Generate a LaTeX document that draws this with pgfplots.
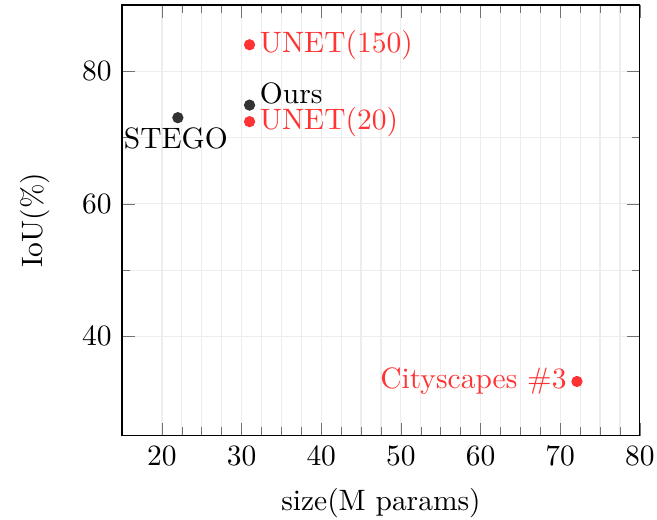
\documentclass[border=0pt]{standalone}
\usepackage{pgfplots}
\pgfplotsset{compat=1.18}
\definecolor{myred}{RGB}{255,51,51}
\definecolor{mydark}{RGB}{51,51,51}
\begin{document}
\begin{tikzpicture}
\begin{axis}[
  scale only axis,
  width=175.6pt, height=146.1pt,
  xmin=15, xmax=80, ymin=25, ymax=90,
  xtick={20,30,...,80}, ytick={40,60,80},
  minor x tick num=3, minor y tick num=1,
  grid=both,
  major grid style={black!7},
  minor grid style={black!7},
  tick style={black!55},
  xlabel={size(M params)},
  xlabel shift=1pt,
  ylabel={IoU(\%)},
  ylabel shift=4pt,
]
\addplot[only marks, mark=*, mark size=1.7pt, color=mydark,
  nodes near coords={STEGO}, every node near coord/.style={anchor=north, black, xshift=-0.7pt}]
  coordinates {(22,73)};
\addplot[only marks, mark=*, mark size=1.7pt, color=mydark,
  nodes near coords={Ours}, every node near coord/.style={anchor=west, black, yshift=3.8pt}]
  coordinates {(31,74.9)};
\addplot[only marks, mark=*, mark size=1.7pt, color=myred,
  nodes near coords={UNET(20)}, every node near coord/.style={anchor=west, myred}]
  coordinates {(31,72.4)};
\addplot[only marks, mark=*, mark size=1.7pt, color=myred,
  nodes near coords={UNET(150)}, every node near coord/.style={anchor=west, myred}]
  coordinates {(31,84)};
\addplot[only marks, mark=*, mark size=1.7pt, color=myred,
  nodes near coords={Cityscapes \#3}, every node near coord/.style={anchor=east, myred}]
  coordinates {(72.1,33.2)};
\end{axis}
\pgfresetboundingbox
\path ([shift={(-41.4pt,-28.5pt)}]current axis.south west) rectangle ([shift={(5.8pt,1.7pt)}]current axis.north east);
\end{tikzpicture}
\end{document}
